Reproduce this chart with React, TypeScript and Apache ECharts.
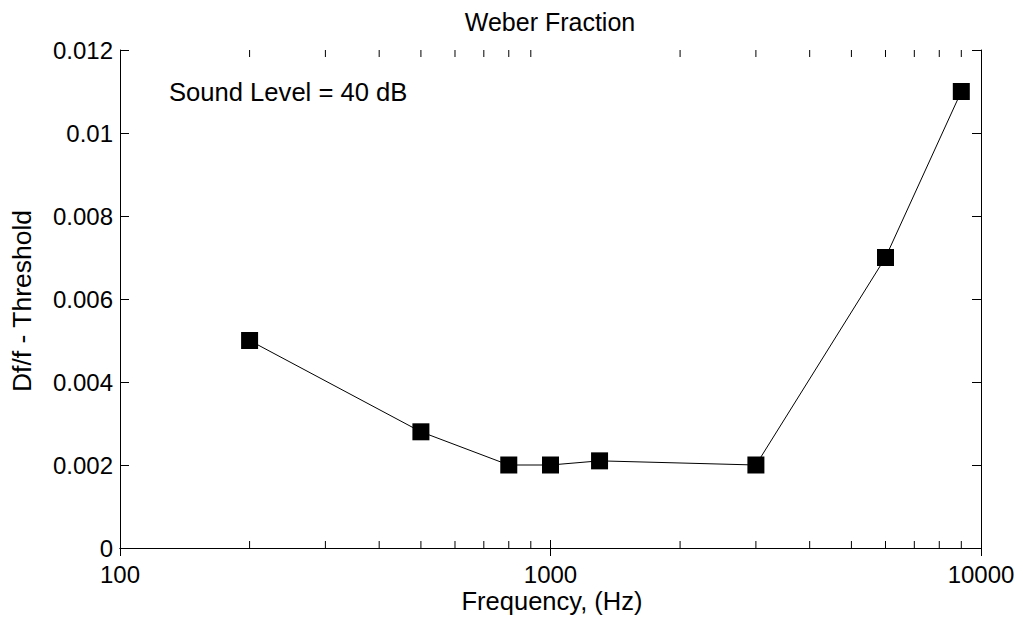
import React, { useEffect, useRef } from "react";
import * as echarts from "echarts";

const frequencies = [200, 500, 800, 1000, 1300, 3000, 6000, 9000];
const weberFractions = [0.005, 0.0028, 0.002, 0.002, 0.0021, 0.002, 0.007, 0.011];
const minorTickValues = [200, 300, 400, 500, 600, 700, 800, 900, 2000, 3000, 4000, 5000, 6000, 7000, 8000, 9000];
const chartTitle = "Weber Fraction";
const xName = "Frequency, (Hz)";
const yName = "Df/f - Threshold";
const annotation = "Sound Level = 40 dB";

const FONT = "'Liberation Sans', Arial, Helvetica, sans-serif";

export default function App() {
  const ref = useRef<HTMLDivElement>(null);
  useEffect(() => {
    if (!ref.current) return;
    const chart = echarts.init(ref.current, undefined, { renderer: "svg" });
    const axisLine = { show: true, lineStyle: { color: "#000", width: 1 } };
    const option: any = {
      animation: false,
      backgroundColor: "#fff",
      textStyle: { fontFamily: FONT },
      grid: { left: 120, right: 42, top: 50, bottom: 72, containLabel: false },
      xAxis: [
        {
          type: "log",
          logBase: 10,
          min: 100,
          max: 10000,
          position: "bottom",
          axisLine,
          axisTick: { show: true, inside: true, length: 8, lineStyle: { color: "#000" } },
          axisLabel: {
            color: "#000",
            fontSize: 24,
            lineHeight: 20,
            fontFamily: FONT,
            margin: 16,
            formatter: (v: number) => String(Math.round(v)),
          },
          splitLine: { show: false },
        },
        {
          type: "log",
          logBase: 10,
          min: 100,
          max: 10000,
          position: "top",
          axisLine,
          axisTick: { show: true, inside: true, length: 8, lineStyle: { color: "#000" } },
          axisLabel: { show: false },
          splitLine: { show: false },
        },
      ],
      yAxis: [
        {
          type: "value",
          min: 0,
          max: 0.012,
          interval: 0.002,
          position: "left",
          axisLine,
          axisTick: { show: true, inside: true, length: 9, lineStyle: { color: "#000" } },
          axisLabel: { color: "#000", fontSize: 24, lineHeight: 20, fontFamily: FONT, margin: 7 },
          splitLine: { show: false },
        },
        {
          type: "value",
          min: 0,
          max: 0.012,
          interval: 0.002,
          position: "right",
          axisLine,
          axisTick: { show: true, inside: true, length: 9, lineStyle: { color: "#000" } },
          axisLabel: { show: false },
          splitLine: { show: false },
        },
      ],
      series: [
        {
          type: "custom",
          xAxisIndex: 0,
          yAxisIndex: 0,
          silent: true,
          data: minorTickValues.map((v) => [v, 0]),
          encode: { x: 0, y: 1 },
          renderItem: (params: any, api: any) => {
            const x = api.coord([api.value(0), 0])[0];
            const cs = params.coordSys;
            const top = cs.y;
            const bottom = cs.y + cs.height;
            const len = 7;
            return {
              type: "group",
              children: [
                { type: "line", shape: { x1: x, y1: bottom, x2: x, y2: bottom - len }, style: { stroke: "#000", lineWidth: 1 } },
                { type: "line", shape: { x1: x, y1: top, x2: x, y2: top + len }, style: { stroke: "#000", lineWidth: 1 } },
              ],
            };
          },
        },
        {
          type: "line",
          xAxisIndex: 0,
          yAxisIndex: 0,
          data: frequencies.map((f, i) => [f, weberFractions[i]]),
          symbol: "rect",
          symbolSize: 17,
          showAllSymbol: true,
          itemStyle: { color: "#000" },
          lineStyle: { color: "#000", width: 1 },
        },
      ],
      graphic: [
        {
          type: "text",
          x: 550,
          y: 22,
          style: { text: chartTitle, fontSize: 25, fontFamily: FONT, fill: "#000", textAlign: "center", textVerticalAlign: "middle" },
        },
        {
          type: "text",
          x: 552,
          y: 601,
          style: { text: xName, fontSize: 25.5, lineHeight: 22, fontFamily: FONT, fill: "#000", textAlign: "center", textVerticalAlign: "middle" },
        },
        {
          type: "text",
          x: 22,
          y: 301,
          rotation: Math.PI / 2,
          style: { text: yName, fontSize: 26.5, fontFamily: FONT, fill: "#000", textAlign: "center", textVerticalAlign: "middle" },
        },
        {
          type: "text",
          x: 169,
          y: 92,
          style: { text: annotation, fontSize: 25.6, fontFamily: FONT, fill: "#000", textAlign: "left", textVerticalAlign: "middle" },
        },
      ],
    };
    chart.setOption(option);
    return () => chart.dispose();
  }, []);
  return <div ref={ref} style={{ position: "fixed", left: 0, top: 0, width: 1023, height: 620 }} />;
}
